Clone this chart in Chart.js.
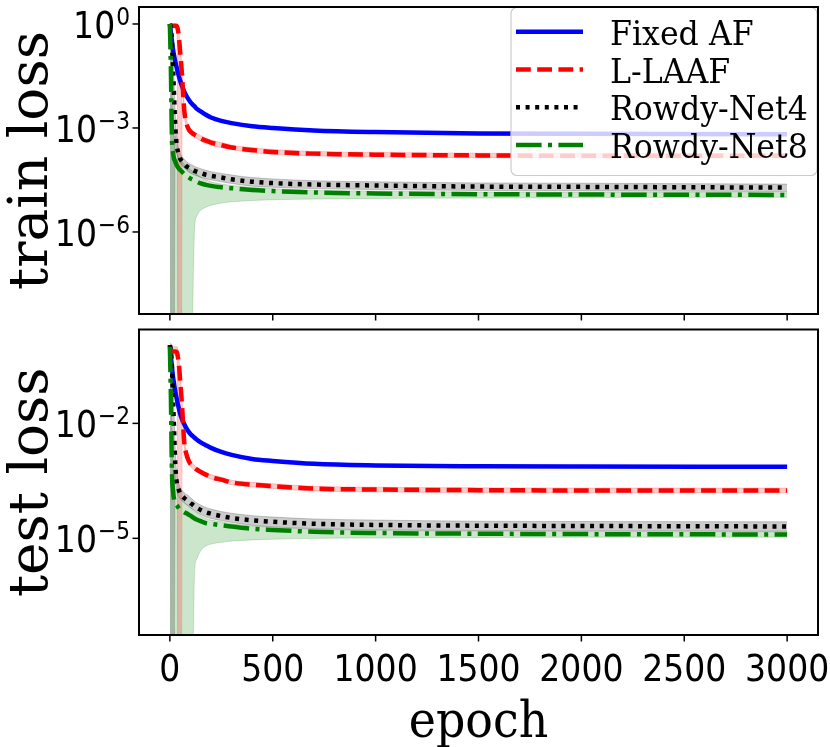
<!DOCTYPE html>
<html>
<head>
<meta charset="utf-8">
<script src="https://cdn.jsdelivr.net/npm/chart.js@4.4.0/dist/chart.umd.min.js"></script>
<style>
  html, body { margin: 0; padding: 0; background: #fff; }
  #wrap { position: relative; width: 830px; height: 747px; overflow: hidden; }
  canvas { position: absolute; left: 0; }
  #chartTrain { top: 0; }
  #chartTest { top: 322px; }
</style>
</head>
<body>
<div id="wrap">
  <canvas id="chartTrain" width="830" height="330"></canvas>
  <canvas id="chartTest" width="830" height="425"></canvas>
</div>
<script>
/* ==========================================================================
   Loss curves - train / test, log scale
   ========================================================================== */

// Data
const epochs = [0, 5, 10, 15, 20, 25, 30, 35, 40, 45, 50, 55, 60, 70, 80, 90, 100, 110, 120, 130, 150, 175, 200, 250, 300, 400, 500, 700, 1000, 1500, 2000, 3000];
const seriesNames = ['Fixed AF', 'L-LAAF', 'Rowdy-Net4', 'Rowdy-Net8'];

const epochTicks = [0, 500, 1000, 1500, 2000, 2500, 3000];
const trainTicks = [1, 1e-3, 1e-6];
const trainTickExps = ['0', '\u22123', '\u22126'];
const testTicks = [1e-2, 1e-5];
const testTickExps = ['\u22122', '\u22125'];

// train loss
const trainFixed = [1.0, 0.56, 0.32, 0.19, 0.126, 0.089, 0.066, 0.05, 0.038, 0.0295, 0.0234, 0.019, 0.0158, 0.0112, 0.0085, 0.0068, 0.0056, 0.0048, 0.0042, 0.0036, 0.003, 0.0024, 0.002, 0.0016, 0.00138, 0.00112, 0.001, 0.00085, 0.00076, 0.00069, 0.00068, 0.00066];
const trainLlaaf = [0.89, 0.89, 0.89, 0.89, 0.89, 0.89, 0.89, 0.85, 0.63, 0.355, 0.158, 0.071, 0.028, 0.0032, 0.0014, 0.00095, 0.00079, 0.0007, 0.00064, 0.00059, 0.0005, 0.00043, 0.00038, 0.00032, 0.000275, 0.00023, 0.000204, 0.000182, 0.00017, 0.000162, 0.000158, 0.000158];
const trainRowdy4 = [1.0, 0.79, 0.32, 0.063, 0.01, 0.00158, 0.0005, 0.00028, 0.0002, 0.000158, 0.000132, 0.000117, 0.000107, 0.000091, 0.000079, 0.000072, 0.000066, 0.000062, 0.000058, 0.000055, 0.00005, 0.0000447, 0.0000417, 0.0000372, 0.0000331, 0.0000282, 0.0000257, 0.0000234, 0.0000219, 0.0000204, 0.00002, 0.000019];
const trainRowdy8 = [1.0, 0.05, 0.0005, 0.0002, 0.000132, 0.000112, 0.0000933, 0.0000813, 0.0000724, 0.000066, 0.0000617, 0.0000575, 0.0000537, 0.0000468, 0.0000417, 0.000038, 0.0000347, 0.0000324, 0.0000302, 0.0000282, 0.0000251, 0.0000229, 0.0000214, 0.0000195, 0.0000182, 0.0000162, 0.0000151, 0.0000138, 0.0000129, 0.0000123, 0.000012, 0.0000117];

// train loss, shaded bands (upper / lower)
const trainLlaafHi = [1.0, 1.0, 1.0, 1.0, 1.0, 1.0, 1.0, 1.0, 0.85, 0.5, 0.25, 0.1, 0.04, 0.0045, 0.0018, 0.0012, 0.00095, 0.00084, 0.00076, 0.0007, 0.0006, 0.00051, 0.00045, 0.00038, 0.00032, 0.00027, 0.00024, 0.00021, 0.000197, 0.000188, 0.000183, 0.000183];
const trainLlaafLo = [0.75, 0.75, 0.75, 0.75, 0.75, 0.75, 0.7, 0.5, 1e-12, 1e-12, 1e-12, 1e-12, 0.02, 0.0024, 0.0011, 0.00076, 0.00065, 0.00058, 0.00053, 0.0005, 0.00042, 0.00036, 0.00032, 0.00027, 0.00024, 0.000195, 0.000174, 0.000157, 0.000146, 0.000139, 0.000136, 0.000136];
const trainRowdy4Hi = [1.0, 1.0, 0.6, 0.15, 0.03, 0.004, 0.0009, 0.00045, 0.0003, 0.00023, 0.00019, 0.000165, 0.000148, 0.000125, 0.000108, 0.000098, 0.00009, 0.000084, 0.000078, 0.000074, 0.000067, 0.00006, 0.000055, 0.000049, 0.000044, 0.000037, 0.000034, 0.00003, 0.000028, 0.000026, 0.0000255, 0.000024];
const trainRowdy4Lo = [1e-12, 1e-12, 1e-12, 1e-12, 1e-12, 0.0006, 0.00025, 0.00018, 0.00014, 0.000115, 0.0001, 0.00009, 0.000082, 0.00007, 0.000061, 0.000055, 0.00005, 0.000047, 0.000044, 0.000042, 0.000038, 0.000034, 0.000032, 0.000028, 0.000025, 0.000021, 0.0000195, 0.0000178, 0.0000167, 0.0000157, 0.0000153, 0.0000146];
const trainRowdy8Hi = [1.0, 0.3, 0.01, 0.0012, 0.0004, 0.00025, 0.0002, 0.00017, 0.00015, 0.000135, 0.000122, 0.000112, 0.000103, 0.00009, 0.00008, 0.000071, 0.000063, 0.000057, 0.000051, 0.000046, 0.000038, 0.000032, 0.000028, 0.000024, 0.000022, 0.0000192, 0.0000177, 0.0000161, 0.000015, 0.0000142, 0.0000139, 0.0000136];
const trainRowdy8Lo = [1e-12, 1e-12, 1e-12, 1e-12, 1e-12, 1e-12, 1e-12, 1e-12, 1e-12, 1e-12, 1e-12, 1e-12, 1e-12, 1e-12, 1e-12, 1e-12, 1e-12, 3e-9, 1.26e-6, 2.8e-6, 4.2e-6, 5.2e-6, 5.9e-6, 6.8e-6, 7.4e-6, 8.1e-6, 8.5e-6, 8.9e-6, 9.3e-6, 9.5e-6, 9.8e-6, 1e-5];

// test loss
const testFixed = [1.1, 0.56, 0.3, 0.17, 0.11, 0.075, 0.054, 0.04, 0.03, 0.023, 0.018, 0.0148, 0.0126, 0.0095, 0.0075, 0.0062, 0.0053, 0.0047, 0.0042, 0.0038, 0.0032, 0.0027, 0.0023, 0.0018, 0.00151, 0.00118, 0.00105, 0.00088, 0.0008, 0.00076, 0.00075, 0.00074];
const testLlaaf = [0.75, 0.75, 0.75, 0.75, 0.75, 0.75, 0.75, 0.7, 0.5, 0.3, 0.13, 0.06, 0.025, 0.0032, 0.0016, 0.0011, 0.00088, 0.00078, 0.0007, 0.00063, 0.00054, 0.00046, 0.0004, 0.00034, 0.00029, 0.00025, 0.00023, 0.000198, 0.000188, 0.000181, 0.000178, 0.000178];
const testRowdy4 = [1.1, 0.8, 0.3, 0.05, 0.008, 0.0012, 0.00042, 0.00026, 0.00021, 0.000174, 0.000148, 0.000135, 0.000126, 0.000112, 0.000102, 0.000093, 0.000083, 0.000076, 0.000069, 0.000063, 0.000055, 0.000048, 0.000044, 0.000038, 0.000034, 0.0000295, 0.000027, 0.000024, 0.0000224, 0.0000214, 0.000021, 0.0000204];
const testRowdy8 = [1.0, 0.05, 0.0006, 0.00018, 0.000105, 0.000085, 0.000078, 0.000072, 0.000065, 0.000059, 0.000056, 0.000054, 0.000052, 0.000048, 0.000045, 0.000042, 0.000039, 0.000036, 0.000033, 0.000031, 0.000028, 0.000025, 0.000024, 0.0000219, 0.0000204, 0.0000178, 0.0000166, 0.0000148, 0.0000138, 0.0000132, 0.0000129, 0.0000126];

// test loss, shaded bands (upper / lower)
const testLlaafHi = [1.0, 1.0, 1.0, 1.0, 1.0, 1.0, 1.0, 1.0, 0.75, 0.45, 0.2, 0.09, 0.035, 0.0045, 0.002, 0.0013, 0.001, 0.0009, 0.0008, 0.00072, 0.00062, 0.00053, 0.00046, 0.00039, 0.00033, 0.00029, 0.000265, 0.000228, 0.000216, 0.000208, 0.000205, 0.000205];
const testLlaafLo = [0.6, 0.6, 0.6, 0.6, 0.6, 0.6, 0.6, 0.45, 1e-12, 1e-12, 1e-12, 1e-12, 0.018, 0.0025, 0.0013, 0.0009, 0.00075, 0.00067, 0.0006, 0.00055, 0.00047, 0.0004, 0.00035, 0.0003, 0.00025, 0.00022, 0.0002, 0.000172, 0.000163, 0.000157, 0.000155, 0.000155];
const testRowdy4Hi = [1.2, 1.2, 0.6, 0.12, 0.02, 0.003, 0.0008, 0.00045, 0.00032, 0.00025, 0.00021, 0.00019, 0.000175, 0.000155, 0.00014, 0.00013, 0.000115, 0.000104, 0.000093, 0.000085, 0.000074, 0.000064, 0.000058, 0.00005, 0.000045, 0.000039, 0.000036, 0.000032, 0.00003, 0.000028, 0.0000275, 0.000027];
const testRowdy4Lo = [1e-12, 1e-12, 1e-12, 1e-12, 1e-12, 0.0005, 0.00022, 0.00016, 0.00014, 0.000125, 0.000112, 0.000102, 0.000095, 0.000085, 0.000077, 0.00007, 0.000063, 0.000058, 0.000053, 0.000048, 0.000042, 0.000036, 0.000033, 0.000029, 0.000026, 0.000022, 0.00002, 0.000018, 0.0000168, 0.000016, 0.0000158, 0.0000153];
const testRowdy8Hi = [1.1, 0.3, 0.006, 0.0008, 0.0003, 0.0002, 0.00016, 0.000145, 0.00013, 0.000118, 0.00011, 0.000102, 0.000095, 0.000085, 0.000077, 0.00007, 0.000063, 0.000057, 0.000051, 0.000046, 0.000039, 0.000033, 0.00003, 0.000027, 0.000024, 0.000021, 0.0000195, 0.0000174, 0.0000162, 0.0000155, 0.0000151, 0.0000148];
const testRowdy8Lo = [1e-12, 1e-12, 1e-12, 1e-12, 1e-12, 1e-12, 1e-12, 1e-12, 1e-12, 1e-12, 1e-12, 1e-12, 1e-12, 1e-12, 1e-12, 1e-12, 1e-12, 1e-9, 1.3e-6, 2.8e-6, 4.8e-6, 6.3e-6, 7.1e-6, 7.9e-6, 8.5e-6, 9.1e-6, 9.5e-6, 1e-5, 1.02e-5, 1.05e-5, 1.07e-5, 1.07e-5];

// Styles
const LINE_W = 4.5;
const lineStyles = [
  { color: '#0000ff', dash: [] },
  { color: '#ff0000', dash: [14.8, 6.4] },
  { color: '#000000', dash: [4, 5.6] },
  { color: '#008000', dash: [25.6, 6.4, 4, 6.4] }
];
const bandColors = ['rgba(255,0,0,0.2)', 'rgba(0,0,0,0.2)', 'rgba(0,128,0,0.2)'];

const SANS = '"DejaVu Sans"';
const SERIF = '"DejaVu Serif"';

function toPoints(values) {
  return epochs.map((e, i) => ({ x: e, y: values[i] }));
}

function lineDataset(i, values) {
  return {
    label: seriesNames[i],
    data: toPoints(values),
    borderColor: lineStyles[i].color,
    borderWidth: LINE_W,
    borderDash: lineStyles[i].dash,
    borderCapStyle: 'butt',
    pointRadius: 0,
    fill: false,
    cubicInterpolationMode: 'monotone',
    order: 4 - i
  };
}

function bandDatasets(color, hi, lo) {
  const common = {
    borderColor: color,
    borderWidth: 1,
    pointRadius: 0,
    cubicInterpolationMode: 'monotone',
    clip: 0,
    order: 10
  };
  return [
    { ...common, label: '', data: toPoints(hi), fill: false },
    { ...common, label: '', data: toPoints(lo), fill: '-1', backgroundColor: color }
  ];
}

// text with a slight horizontal squeeze, like the reference
function drawText(ctx, str, x, y, size, family, sx, align) {
  ctx.save();
  ctx.font = size + 'px ' + family;
  ctx.textBaseline = 'alphabetic';
  ctx.textAlign = align;
  ctx.translate(x, y);
  ctx.scale(sx, 1);
  ctx.fillText(str, 0, 0);
  ctx.restore();
}

function textWidth(ctx, str, size, family, sx) {
  ctx.save();
  ctx.font = size + 'px ' + family;
  const w = ctx.measureText(str).width * sx;
  ctx.restore();
  return w;
}

/**
 * Frame, tick marks, tick labels and axis titles
 */
function axesPlugin(cfg) {
  return {
    id: 'axesDecor',
    afterDraw(chart) {
      const { ctx, chartArea: a, scales } = chart;
      const xs = scales.x, ys = scales.y;
      ctx.save();
      ctx.fillStyle = '#000';
      ctx.strokeStyle = '#000';
      ctx.lineWidth = 1.5;
      ctx.setLineDash([]);

      // x tick marks
      epochTicks.forEach(v => {
        const px = xs.getPixelForValue(v);
        ctx.beginPath();
        ctx.moveTo(px, a.bottom);
        ctx.lineTo(px, a.bottom + 6.5);
        ctx.stroke();
        if (cfg.xLabels) {
          drawText(ctx, String(v), px, a.bottom + 46, 38, SANS, 0.87, 'center');
        }
      });

      // y tick marks + 10^n labels
      cfg.yTicks.forEach((v, i) => {
        const py = ys.getPixelForValue(v);
        ctx.beginPath();
        ctx.moveTo(a.left - 6.5, py);
        ctx.lineTo(a.left, py);
        ctx.stroke();
        const right = a.left - 9;
        const wSup = textWidth(ctx, cfg.yExps[i], 25, SANS, 0.87);
        drawText(ctx, '10', right - wSup - 1, py + 14, 38, SANS, 0.87, 'right');
        drawText(ctx, cfg.yExps[i], right, py + 1, 25, SANS, 0.87, 'right');
      });

      // frame
      ctx.lineWidth = 2;
      ctx.strokeRect(a.left, a.top, a.right - a.left, a.bottom - a.top);

      // y title
      ctx.save();
      ctx.translate(47, (a.top + a.bottom) / 2);
      ctx.rotate(-Math.PI / 2);
      ctx.font = '55px ' + SERIF;
      ctx.textAlign = 'center';
      ctx.textBaseline = 'alphabetic';
      ctx.fillText(cfg.yTitle, 0, 0);
      ctx.restore();

      // x title
      if (cfg.xTitle) {
        drawText(ctx, cfg.xTitle, (a.left + a.right) / 2, a.bottom + 102, 51, SERIF, 0.9, 'center');
      }
      ctx.restore();
    }
  };
}

/**
 * Legend box in the upper right corner of the top panel
 */
const legendPlugin = {
  id: 'boxLegend',
  afterDatasetsDraw(chart) {
    const ctx = chart.ctx;
    const a = chart.chartArea;
    const x0 = 511, y0 = a.top + 0.5, w = a.right - 511 - 1, h = 168;
    ctx.save();
    ctx.beginPath();
    ctx.roundRect(x0, y0, w, h, 6);
    ctx.fillStyle = 'rgba(255,255,255,0.8)';
    ctx.fill();
    ctx.strokeStyle = '#cccccc';
    ctx.lineWidth = 1.2;
    ctx.stroke();
    seriesNames.forEach((name, i) => {
      const y = 31.7 + i * 37.8;
      ctx.strokeStyle = lineStyles[i].color;
      ctx.lineWidth = LINE_W;
      ctx.lineCap = 'butt';
      ctx.setLineDash(lineStyles[i].dash);
      ctx.beginPath();
      ctx.moveTo(516, y);
      ctx.lineTo(583, y);
      ctx.stroke();
      ctx.setLineDash([]);
      ctx.fillStyle = '#000';
      drawText(ctx, name, 610, y + 13, 34, SERIF, 0.93, 'left');
    });
    ctx.restore();
  }
};

function makeChart(canvasId, lines, bands, yRange, padding, decor, extraPlugins) {
  const datasets = lines.map((vals, i) => lineDataset(i, vals));
  bands.forEach((b, i) => {
    datasets.push(...bandDatasets(bandColors[i], b[0], b[1]));
  });
  return new Chart(document.getElementById(canvasId), {
    type: 'line',
    data: { datasets },
    options: {
      responsive: false,
      animation: false,
      events: [],
      layout: { padding },
      plugins: { legend: { display: false }, tooltip: { enabled: false } },
      scales: {
        x: { type: 'linear', min: -150, max: 3150, display: false },
        y: { type: 'logarithmic', min: yRange[0], max: yRange[1], display: false }
      }
    },
    plugins: [axesPlugin(decor)].concat(extraPlugins)
  });
}

makeChart('chartTrain',
  [trainFixed, trainLlaaf, trainRowdy4, trainRowdy8],
  [[trainLlaafHi, trainLlaafLo], [trainRowdy4Hi, trainRowdy4Lo], [trainRowdy8Hi, trainRowdy8Lo]],
  [4.3e-9, 3.09],
  { left: 139, right: 12, top: 7, bottom: 16 },
  { yTicks: trainTicks, yExps: trainTickExps, yTitle: 'train loss', xLabels: false },
  [legendPlugin]);

makeChart('chartTest',
  [testFixed, testLlaaf, testRowdy4, testRowdy8],
  [[testLlaafHi, testLlaafLo], [testRowdy4Hi, testRowdy4Lo], [testRowdy8Hi, testRowdy8Lo]],
  [3.16e-8, 2.82],
  { left: 139, right: 12, top: 7.5, bottom: 112 },
  { yTicks: testTicks, yExps: testTickExps, yTitle: 'test loss', xLabels: true, xTitle: 'epoch' },
  []);
</script>
</body>
</html>
